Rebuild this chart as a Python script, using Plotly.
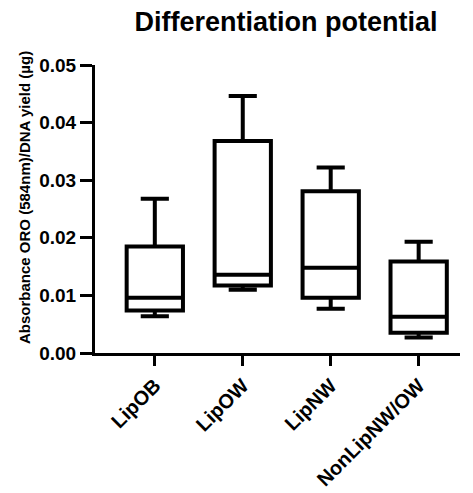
import plotly.graph_objects as go

categories = ["LipOB", "LipOW", "LipNW", "NonLipNW/OW"]
mins = [0.0064, 0.0110, 0.0077, 0.0027]
q1s = [0.0074, 0.0117, 0.0096, 0.0035]
medians = [0.0096, 0.0136, 0.0148, 0.0063]
q3s = [0.0185, 0.0368, 0.0281, 0.0159]
maxs = [0.0268, 0.0446, 0.0322, 0.0193]

y_ticks = [0.00, 0.01, 0.02, 0.03, 0.04, 0.05]
y_tick_labels = ["0.00", "0.01", "0.02", "0.03", "0.04", "0.05"]

font_family = "Liberation Sans, Arial, sans-serif"

fig = go.Figure()
fig.add_trace(go.Box(
    x=categories,
    q1=q1s, median=medians, q3=q3s,
    lowerfence=mins, upperfence=maxs,
    boxpoints=False,
    fillcolor="white",
    line=dict(color="black", width=4),
    whiskerwidth=0.5,
    width=0.64,
    showlegend=False,
))

fig.update_layout(
    width=473, height=493,
    margin=dict(l=87, r=21, t=57, b=148),
    paper_bgcolor="white", plot_bgcolor="white",
    title=dict(
        text="Differentiation potential",
        font=dict(family=font_family, size=27, color="black", weight="bold"),
        x=278 / 473, xref="container", xanchor="center",
        y=1 - 14 / 493, yref="container", yanchor="middle",
    ),
    xaxis=dict(
        type="category",
        range=[-0.68, 3.47],
        showline=True, linecolor="black", linewidth=3,
        ticks="outside", ticklen=10, tickwidth=3, tickcolor="black",
        tickangle=-45,
        tickfont=dict(family=font_family, size=20, color="black", weight="bold"),
        showgrid=False, zeroline=False,
    ),
    yaxis=dict(
        range=[0, 0.05],
        tickvals=y_ticks, ticktext=y_tick_labels,
        showline=True, linecolor="black", linewidth=3,
        ticks="outside", ticklen=12, tickwidth=3, tickcolor="black",
        tickfont=dict(family=font_family, size=19, color="black", weight="bold"),
        showgrid=False, zeroline=False,
    ),
    annotations=[dict(
        text="Absorbance ORO (584nm)/DNA yield (µg)",
        font=dict(family=font_family, size=15, color="black", weight="bold"),
        textangle=-90,
        xref="paper", yref="paper",
        x=(24 - 95) / 365, y=(353 - 198) / 288,
        xanchor="center", yanchor="middle",
        showarrow=False,
    )],
)

fig.write_html("out.html")
